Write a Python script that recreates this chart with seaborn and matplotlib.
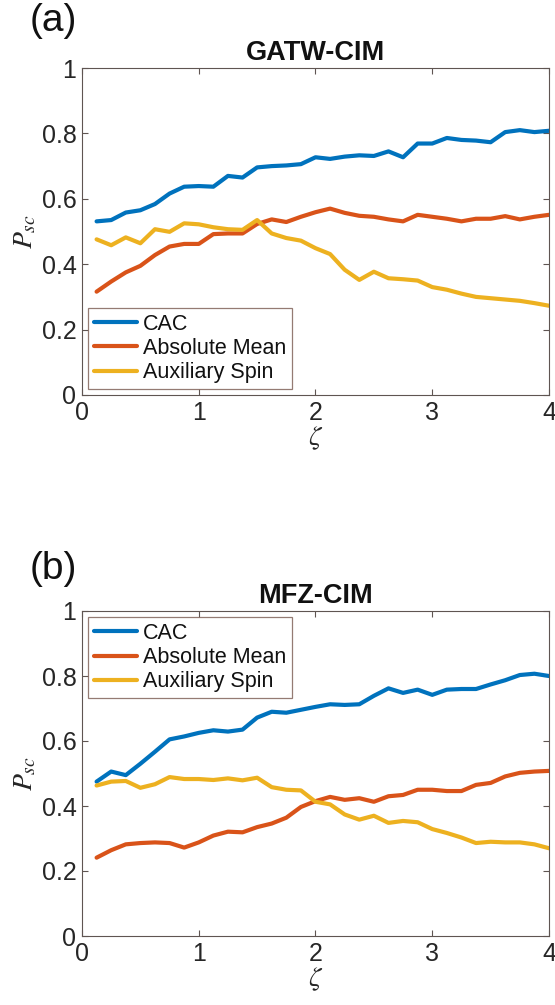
import numpy as np
import pandas as pd
import matplotlib
matplotlib.use("Agg")
import matplotlib.pyplot as plt
import seaborn as sns
from matplotlib.ticker import FixedLocator, FixedFormatter

# ---------------- data ----------------
zeta = [0.125 * k for k in range(1, 33)]

series_names = ["CAC", "Absolute Mean", "Auxiliary Spin"]

gatw_cac = [0.531, 0.535, 0.558, 0.565, 0.584, 0.616, 0.637, 0.639, 0.637, 0.670,
            0.665, 0.696, 0.700, 0.702, 0.706, 0.727, 0.722, 0.729, 0.733, 0.731,
            0.745, 0.727, 0.769, 0.769, 0.786, 0.780, 0.778, 0.773, 0.804, 0.810,
            0.804, 0.808]
gatw_abs = [0.316, 0.347, 0.375, 0.395, 0.428, 0.454, 0.462, 0.462, 0.492, 0.494,
            0.494, 0.523, 0.537, 0.529, 0.545, 0.559, 0.570, 0.557, 0.548, 0.545,
            0.537, 0.531, 0.551, 0.545, 0.539, 0.531, 0.539, 0.539, 0.547, 0.537,
            0.545, 0.551]
gatw_aux = [0.476, 0.458, 0.482, 0.464, 0.507, 0.499, 0.525, 0.522, 0.513, 0.507,
            0.505, 0.535, 0.494, 0.480, 0.472, 0.449, 0.431, 0.383, 0.352, 0.377,
            0.357, 0.354, 0.350, 0.330, 0.322, 0.310, 0.300, 0.296, 0.292, 0.288,
            0.281, 0.273]

mfz_cac = [0.475, 0.506, 0.495, 0.530, 0.567, 0.605, 0.614, 0.625, 0.633, 0.629,
           0.635, 0.672, 0.690, 0.687, 0.696, 0.705, 0.713, 0.711, 0.713, 0.739,
           0.762, 0.748, 0.758, 0.742, 0.758, 0.760, 0.760, 0.774, 0.787, 0.803,
           0.807, 0.800]
mfz_abs = [0.241, 0.264, 0.282, 0.286, 0.288, 0.286, 0.272, 0.288, 0.309, 0.321,
           0.319, 0.335, 0.346, 0.364, 0.397, 0.415, 0.428, 0.419, 0.424, 0.413,
           0.430, 0.434, 0.450, 0.450, 0.446, 0.446, 0.465, 0.471, 0.491, 0.502,
           0.506, 0.508]
mfz_aux = [0.463, 0.475, 0.477, 0.456, 0.467, 0.489, 0.483, 0.483, 0.480, 0.485,
           0.479, 0.487, 0.458, 0.450, 0.448, 0.413, 0.405, 0.374, 0.358, 0.370,
           0.348, 0.354, 0.350, 0.329, 0.317, 0.303, 0.286, 0.290, 0.288, 0.288,
           0.282, 0.270]

panel_titles = ["GATW-CIM", "MFZ-CIM"]
panel_letters = ["(a)", "(b)"]
x_ticks = [0, 1, 2, 3, 4]
x_ticklabels = ["0", "1", "2", "3", "4"]
y_ticks = [0, 0.2, 0.4, 0.6, 0.8, 1.0]
y_ticklabels = ["0", "0.2", "0.4", "0.6", "0.8", "1"]

colors = ["#0072BD", "#D95319", "#EDB120"]


def long_df(cac, ab, aux):
    frames = []
    for name, vals in zip(series_names, [cac, ab, aux]):
        frames.append(pd.DataFrame({"zeta": zeta, "Psc": vals, "method": name}))
    return pd.concat(frames, ignore_index=True)


dfs = [long_df(gatw_cac, gatw_abs, gatw_aux), long_df(mfz_cac, mfz_abs, mfz_aux)]

# ---------------- style ----------------
sns.set_theme(style="white")
plt.rcParams["font.family"] = ["Liberation Sans", "DejaVu Sans"]
plt.rcParams["mathtext.fontset"] = "stix"

W, H = 555, 1005
fig = plt.figure(figsize=(W / 100, H / 100), dpi=100)

frame_col = "#5f5552"
legend_edge = "#7a5a50"

axes_boxes = [
    [82 / W, 1 - 395 / H, (549 - 82) / W, (395 - 68) / H],
    [82 / W, 1 - 936 / H, (549 - 82) / W, (936 - 611) / H],
]
legend_locs = ["lower left", "upper left"]
letter_y = [1 - 21 / H, 1 - 569 / H]

for i in range(2):
    ax = fig.add_axes(axes_boxes[i])
    sns.lineplot(data=dfs[i], x="zeta", y="Psc", hue="method",
                 palette=colors, linewidth=3.0, ax=ax, legend=True)
    ax.set_xlim(0, 4)
    ax.set_ylim(0, 1)
    ax.xaxis.set_major_locator(FixedLocator(x_ticks))
    ax.xaxis.set_major_formatter(FixedFormatter(x_ticklabels))
    ax.yaxis.set_major_locator(FixedLocator(y_ticks))
    ax.yaxis.set_major_formatter(FixedFormatter(y_ticklabels))
    ax.tick_params(direction="in", length=4, width=0.8, colors=frame_col,
                   labelcolor="#262626", labelsize=18,
                   top=True, right=True, bottom=True, left=True, pad=4)
    for sp in ax.spines.values():
        sp.set_visible(True)
        sp.set_color(frame_col)
        sp.set_linewidth(0.8)
    ax.set_xlabel(r"$\zeta$", fontsize=20, color="#262626", labelpad=0)
    ax.set_ylabel(r"$P_{sc}$", fontsize=20, color="#262626", labelpad=2)
    ax.set_title(panel_titles[i], fontsize=19.5, fontweight="bold", pad=6,
                 color="#111111")
    leg = ax.legend(loc=legend_locs[i], fontsize=15.5, frameon=True,
                    fancybox=False, handlelength=2.0, handletextpad=0.3,
                    borderpad=0.25, labelspacing=0.15, borderaxespad=0.3)
    leg.get_frame().set_edgecolor(legend_edge)
    leg.get_frame().set_linewidth(0.9)
    for lh in leg.get_lines():
        lh.set_linewidth(3.0)
    for t in leg.get_texts():
        t.set_color("#111111")
    fig.text(30 / W, letter_y[i], panel_letters[i], fontsize=28,
             ha="left", va="center", color="#111111")

fig.savefig("out.png", dpi=100)
